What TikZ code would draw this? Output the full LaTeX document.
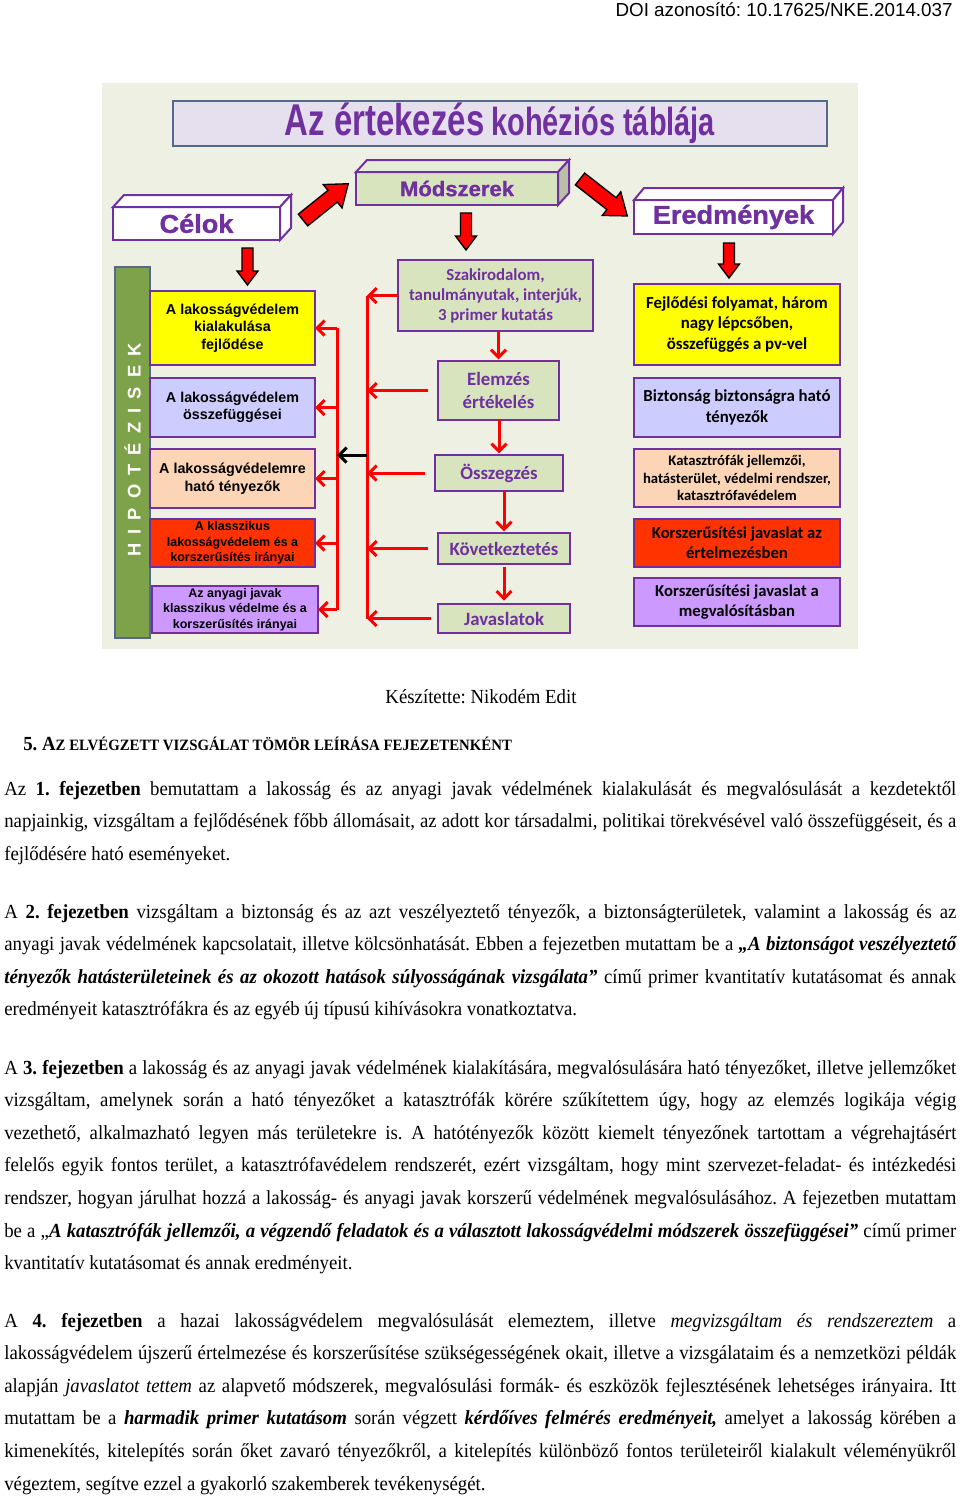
\documentclass[tikz,border=0pt]{standalone}
\usepackage[dvipsnames]{xcolor}
\usepackage{fontspec}
\setmainfont{Liberation Serif}[FakeStretch=0.94]
\newfontfamily\arialfont{Liberation Sans}
\newfontfamily\titlefont{Liberation Sans}[FakeStretch=0.74]
\newfontfamily\headfont{Liberation Sans}[FakeStretch=1.05,FakeBold=1.2]
\newfontfamily\calfont{Carlito}
\usetikzlibrary{arrows.meta}
\frenchspacing

\definecolor{pvbg}{HTML}{EDF0E3}
\definecolor{pvpurple}{HTML}{7030A0}
\definecolor{pvslate}{HTML}{55698A}
\definecolor{pvtitle}{HTML}{E6E0EE}
\definecolor{pvhipo}{HTML}{7EA24A}
\definecolor{pvgreen}{HTML}{D7E4BD}
\definecolor{pvgreentop}{HTML}{E6EDD6}
\definecolor{pvgreenside}{HTML}{B9C0A5}
\definecolor{pvyellow}{HTML}{FFFF00}
\definecolor{pvlav}{HTML}{CCCCFF}
\definecolor{pvpeach}{HTML}{FBD5B5}
\definecolor{pvorange}{HTML}{FF3300}
\definecolor{pvlilac}{HTML}{CC99FF}

\tikzset{wh/.style 2 args={minimum width=#1*0.6pt,minimum height=#2*0.6pt}}

\begin{document}
\begin{tikzpicture}[x=0.6pt,y=-0.6pt,
    box/.style={draw=pvpurple,line width=1.5pt,inner sep=0pt,outer sep=0pt,align=center},
    lbox/.style={box,font=\arialfont\bfseries\fontsize{8.6}{10.5}\selectfont},
    lsmall/.style={box,font=\arialfont\bfseries\fontsize{7.5}{9.2}\selectfont},
    mbox/.style={box,fill=pvgreen,text=pvpurple,font=\calfont\bfseries\fontsize{11.3}{13.5}\selectfont},
    rbox/.style={box,font=\calfont\bfseries\fontsize{10.1}{12.3}\selectfont},
    cube/.style={box,line width=1.2pt,fill=white,text=pvpurple,font=\headfont\bfseries},
    face/.style={draw=pvpurple,line width=1.2pt},
    blockarrow/.style={draw=black,fill=red,line width=0.8pt,line join=miter},
    link/.style={red,line width=1.8pt,-{Straight Barb[length=4.5pt,width=9pt]}},
    bus/.style={red,line width=1.8pt},
    para/.style={anchor=base west,inner sep=0pt,text width=571.2pt,align=justify,
        font=\rmfamily\fontsize{12}{19.56}\selectfont}]

\fill[white] (0,0) rectangle (960,1496);
\useasboundingbox (0,0) rectangle (960,1496);

\node[anchor=base east,inner sep=0pt,font=\arialfont\fontsize{11.3}{13}\selectfont] (doi) at (953,16) {DOI azonosító: 10.17625/NKE.2014.037};

% the cohesion table
\fill[pvbg] (102,83) rectangle (858,649);
\node[box,draw=pvslate,fill=pvtitle,wh={654}{45},text=pvpurple,font=\titlefont\bfseries] (title) at (500,123.5)
    {{\fontsize{26.7}{30}\selectfont Az értekezés}\hspace{2pt} {\fontsize{23.5}{26}\selectfont kohéziós táblája}};

\node[cube,wh={167}{33},font=\headfont\bfseries\fontsize{15.5}{18}\selectfont] (celok) at (196.5,223.5) {Célok};
\draw[face,fill=white] (celok.north west) -- ++(11,-12) -- ++(167,0) -- (celok.north east) -- cycle;
\draw[face,fill=white] (celok.north east) -- ++(11,-12) -- ++(0,33) -- (celok.south east) -- cycle;

\node[cube,fill=pvgreen,wh={202}{33},font=\headfont\bfseries\fontsize{12.6}{14}\selectfont] (modsz) at (457,188.5) {Módszerek};
\draw[face,fill=pvgreentop] (modsz.north west) -- ++(11,-12) -- ++(202,0) -- (modsz.north east) -- cycle;
\draw[face,fill=pvgreenside] (modsz.north east) -- ++(11,-12) -- ++(0,33) -- (modsz.south east) -- cycle;

\node[cube,wh={199}{34},font=\headfont\bfseries\fontsize{15.5}{18}\selectfont] (ered) at (733.5,217) {Eredmények};
\draw[face,fill=white] (ered.north west) -- ++(10,-12) -- ++(199,0) -- (ered.north east) -- cycle;
\draw[face,fill=white] (ered.north east) -- ++(10,-12) -- ++(0,34) -- (ered.south east) -- cycle;

% block arrows
\draw[blockarrow,shift={(303,220)},rotate=38.7]
    (0,-7.5) -- (38,-7.5) -- (38,-15) -- (58,0) -- (38,15) -- (38,7.5) -- (0,7.5) -- cycle;
\draw[blockarrow,shift={(580,179)},rotate=-38]
    (0,-7.5) -- (40,-7.5) -- (40,-15) -- (60,0) -- (40,15) -- (40,7.5) -- (0,7.5) -- cycle;
\foreach \ax/\ay/\al in {247.5/248/37, 466/213/37, 729/243/35}
    \draw[blockarrow,shift={(\ax,\ay)},rotate=-90]
        (0,-5.5) -- (\al-14,-5.5) -- (\al-14,-10.5) -- (\al,0) -- (\al-14,10.5) -- (\al-14,5.5) -- (0,5.5) -- cycle;

% hypotheses bar
\node[box,draw=pvslate,fill=pvhipo,wh={35}{371}] (hipo) at (132.5,452.5) {};
\node[rotate=90,text=white,font=\arialfont\bfseries\fontsize{11}{11}\selectfont] (hipotext) at (132.5,450)
    {H\,\,\,I\,\,\,P\,\,\,O\,\,\,T\,\,\,É\,\,\,Z\,\,\,I\,\,\,S\,\,\,E\,\,\,K};

% goals
\node[lbox,fill=pvyellow,wh={165}{74}] (l1) at (232.5,328) {A lakosságvédelem\\kialakulása\\fejlődése};
\node[lbox,fill=pvlav,wh={165}{59}] (l2) at (232.5,407.5) {A lakosságvédelem\\összefüggései};
\node[lbox,fill=pvpeach,wh={165}{59}] (l3) at (232.5,478.5) {A lakosságvédelemre\\ható tényezők};
\node[lsmall,fill=pvorange,wh={165}{48}] (l4) at (232.5,543) {A klasszikus\\lakosságvédelem és a\\korszerűsítés irányai};
\node[lsmall,fill=pvlilac,wh={166}{47}] (l5) at (235,609.5) {Az anyagi javak\\klasszikus védelme és a\\korszerűsítés irányai};

% methods
\node[mbox,font=\calfont\bfseries\fontsize{10.1}{12}\selectfont,wh={195}{71}] (m1) at (495.5,295.5)
    {Szakirodalom,\\tanulmányutak, interjúk,\\3 primer kutatás};
\node[mbox,wh={121}{59}] (m2) at (498.5,390.5) {Elemzés\\értékelés};
\node[mbox,wh={128}{36}] (m3) at (499,473) {Összegzés};
\node[mbox,wh={132}{31}] (m4) at (504,548.5) {Következtetés};
\node[mbox,wh={132}{29}] (m5) at (504,618.5) {Javaslatok};

% results
\node[rbox,fill=pvyellow,wh={206}{81}] (r1) at (737,324.5) {Fejlődési folyamat, három\\nagy lépcsőben,\\összefüggés a pv-vel};
\node[rbox,fill=pvlav,wh={206}{59}] (r2) at (737,407.5) {Biztonság biztonságra ható\\tényezők};
\node[rbox,fill=pvpeach,wh={206}{58},font=\calfont\bfseries\fontsize{8.8}{10.5}\selectfont] (r3) at (737,478)
    {Katasztrófák jellemzői,\\hatásterület, védelmi rendszer,\\katasztrófavédelem};
\node[rbox,fill=pvorange,wh={206}{48},font=\calfont\bfseries\fontsize{10}{12}\selectfont] (r4) at (737,543) {Korszerűsítési javaslat az\\értelmezésben};
\node[rbox,fill=pvlilac,wh={206}{48},font=\calfont\bfseries\fontsize{10}{12}\selectfont] (r5) at (737,602) {Korszerűsítési javaslat a\\megvalósításban};

% connectors
\coordinate (bus1) at (367,0);
\coordinate (bus2) at (337,0);
\coordinate (hub) at (367,455);
\draw[bus] (m1.west -| bus1) -- (m5.west -| bus1);
\draw[bus] (l1.east -| bus2) -- (l5.east -| bus2);
\path[link]
    (m1.west) edge (m1.west -| bus1)
    (m2.west) edge[shorten <=6pt] (m2.west -| bus1)
    (m3.west) edge[shorten <=6pt] (m3.west -| bus1)
    (m4.west) edge[shorten <=6pt] (m4.west -| bus1)
    (m5.west) edge[shorten <=4pt] (m5.west -| bus1)
    (l1.east -| bus2) edge (l1.east)
    (l2.east -| bus2) edge (l2.east)
    (l3.east -| bus2) edge (l3.east)
    (l4.east -| bus2) edge (l4.east)
    (l5.east -| bus2) edge (l5.east)
    (hub) edge[black] (hub -| bus2)
    (m1.south -| m2) edge[shorten >=1pt] (m2.north)
    (m2.south -| m3) edge[shorten >=1pt] (m3.north)
    (m3.south -| m4) edge[shorten >=1pt] (m4.north)
    (m4.south) edge[shorten <=2pt,shorten >=2pt] (m5.north);

% text below
\node[anchor=base,inner sep=0pt,font=\rmfamily\fontsize{12}{14}\selectfont] (author) at (481,703) {Készítette: Nikodém Edit};
\node[anchor=base west,inner sep=0pt,font=\rmfamily\bfseries\fontsize{12}{14}\selectfont] (chapter) at (23,750)
    {5. A{\fontsize{9.45}{12}\selectfont Z ELVÉGZETT VIZSGÁLAT TÖMÖR LEÍRÁSA FEJEZETENKÉNT}};

\node[para] (p1) at (4,795) {Az \textbf{1. fejezetben} bemutattam a lakosság és az anyagi javak védelmének kialakulását és megvalósulását a kezdetektől\linebreak
napjainkig, vizsgáltam a fejlődésének főbb állomásait, az adott kor társadalmi, politikai törekvésével való összefüggéseit, és a\linebreak
fejlődésére ható eseményeket.};

\node[para] (p2) at (4,918) {A \textbf{2. fejezetben} vizsgáltam a biztonság és az azt veszélyeztető tényezők, a biztonságterületek, valamint a lakosság és az\linebreak
anyagi javak védelmének kapcsolatait, illetve kölcsönhatását. Ebben a fejezetben mutattam be a \textbf{\textit{„A biztonságot veszélyeztető\linebreak
tényezők hatásterületeinek és az okozott hatások súlyosságának vizsgálata”}} című primer kvantitatív kutatásomat és annak\linebreak
eredményeit katasztrófákra és az egyéb új típusú kihívásokra vonatkoztatva.};

\node[para] (p3) at (4,1074) {A \textbf{3. fejezetben} a lakosság és az anyagi javak védelmének kialakítására, megvalósulására ható tényezőket, illetve jellemzőket\linebreak
vizsgáltam, amelynek során a ható tényezőket a katasztrófák körére szűkítettem úgy, hogy az elemzés logikája végig\linebreak
vezethető, alkalmazható legyen más területekre is. A hatótényezők között kiemelt tényezőnek tartottam a végrehajtásért\linebreak
felelős egyik fontos terület, a katasztrófavédelem rendszerét, ezért vizsgáltam, hogy mint szervezet-feladat- és intézkedési\linebreak
rendszer, hogyan járulhat hozzá a lakosság- és anyagi javak korszerű védelmének megvalósulásához. A fejezetben mutattam\linebreak
be a „\textbf{\textit{A katasztrófák jellemzői, a végzendő feladatok és a választott lakosságvédelmi módszerek összefüggései”}} című primer\linebreak
kvantitatív kutatásomat és annak eredményeit.};

\node[para] (p4) at (4,1327) {A \textbf{4. fejezetben} a hazai lakosságvédelem megvalósulását elemeztem, illetve \textit{megvizsgáltam és rendszereztem} a\linebreak
lakosságvédelem újszerű értelmezése és korszerűsítése szükségességének okait, illetve a vizsgálataim és a nemzetközi példák\linebreak
alapján \textit{javaslatot tettem} az alapvető módszerek, megvalósulási formák- és eszközök fejlesztésének lehetséges irányaira. Itt\linebreak
mutattam be a \textbf{\textit{harmadik primer kutatásom}} során végzett \textbf{\textit{kérdőíves felmérés eredményeit,}} amelyet a lakosság körében a\linebreak
kimenekítés, kitelepítés során őket zavaró tényezőkről, a kitelepítés különböző fontos területeiről kialakult véleményükről\linebreak
végeztem, segítve ezzel a gyakorló szakemberek tevékenységét.};
\end{tikzpicture}
\end{document}
